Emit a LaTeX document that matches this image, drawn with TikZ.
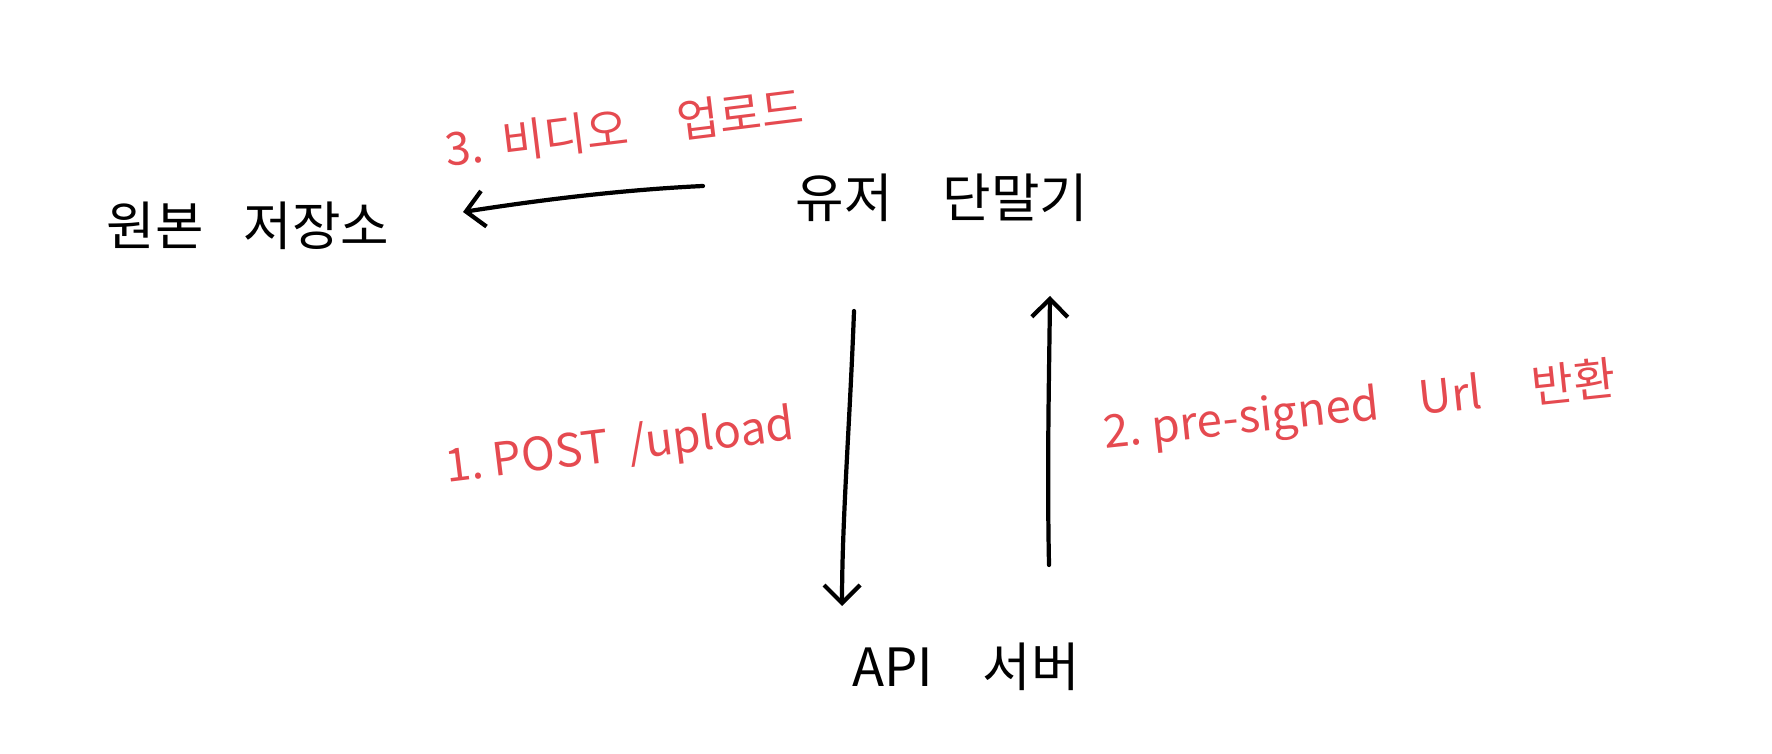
\documentclass[tikz,border=0pt]{standalone}
\usepackage{fontspec}
\setmainfont{Noto Sans CJK KR}
\usetikzlibrary{arrows.meta}
\definecolor{penred}{RGB}{229,74,80}
\tikzset{
  x=0.1mm, y=-0.1mm,
  blacklabel/.style={font=\fontsize{15}{18}\selectfont, text=black, inner sep=0pt},
  redlabel/.style={font=\fontsize{13}{16}\selectfont, text=penred, inner sep=0pt},
  pen/.style={line width=1.2pt, line cap=round, line join=round,
    -{Straight Barb[length=1.8mm,width=3.6mm,line width=1.2pt]}}
}
\begin{document}
\begin{tikzpicture}
\useasboundingbox (0,0) rectangle (1772,754);
% nodes
\node[blacklabel] (storage) at (248,226) {원본\hspace{4mm}저장소};
\node[blacklabel] (client) at (942,198) {유저\hspace{5mm}단말기};
\node[blacklabel] (api) at (966,667) {API\hspace{5mm}서버};
% labels
\node[redlabel, rotate=7] (l3) at (624,128) {3.\hspace{2mm}비디오\hspace{5mm}업로드};
\node[redlabel, rotate=7] (l1) at (620,448) {1.\hspace{1mm}POST\hspace{2mm}/upload};
\node[redlabel, rotate=6] (l2) at (1360,408) {2.\hspace{1mm}pre-signed\hspace{4mm}Url\hspace{5mm}반환};
% arrow endpoints
\coordinate (a3s) at (703,186);
\coordinate (a3e) at (463,212);
\coordinate (a1s) at (854,311);
\coordinate (a1e) at (842,606);
\coordinate (a2s) at (1049,565);
\coordinate (a2e) at (1050,296);
% connectors
\draw[pen] (a3s) .. controls (620,190) and (540,200) .. (a3e);
\draw[pen] (a1s) .. controls (850,420) and (842,520) .. (a1e);
\draw[pen] (a2s) .. controls (1047,470) and (1049,380) .. (a2e);
\end{tikzpicture}
\end{document}
